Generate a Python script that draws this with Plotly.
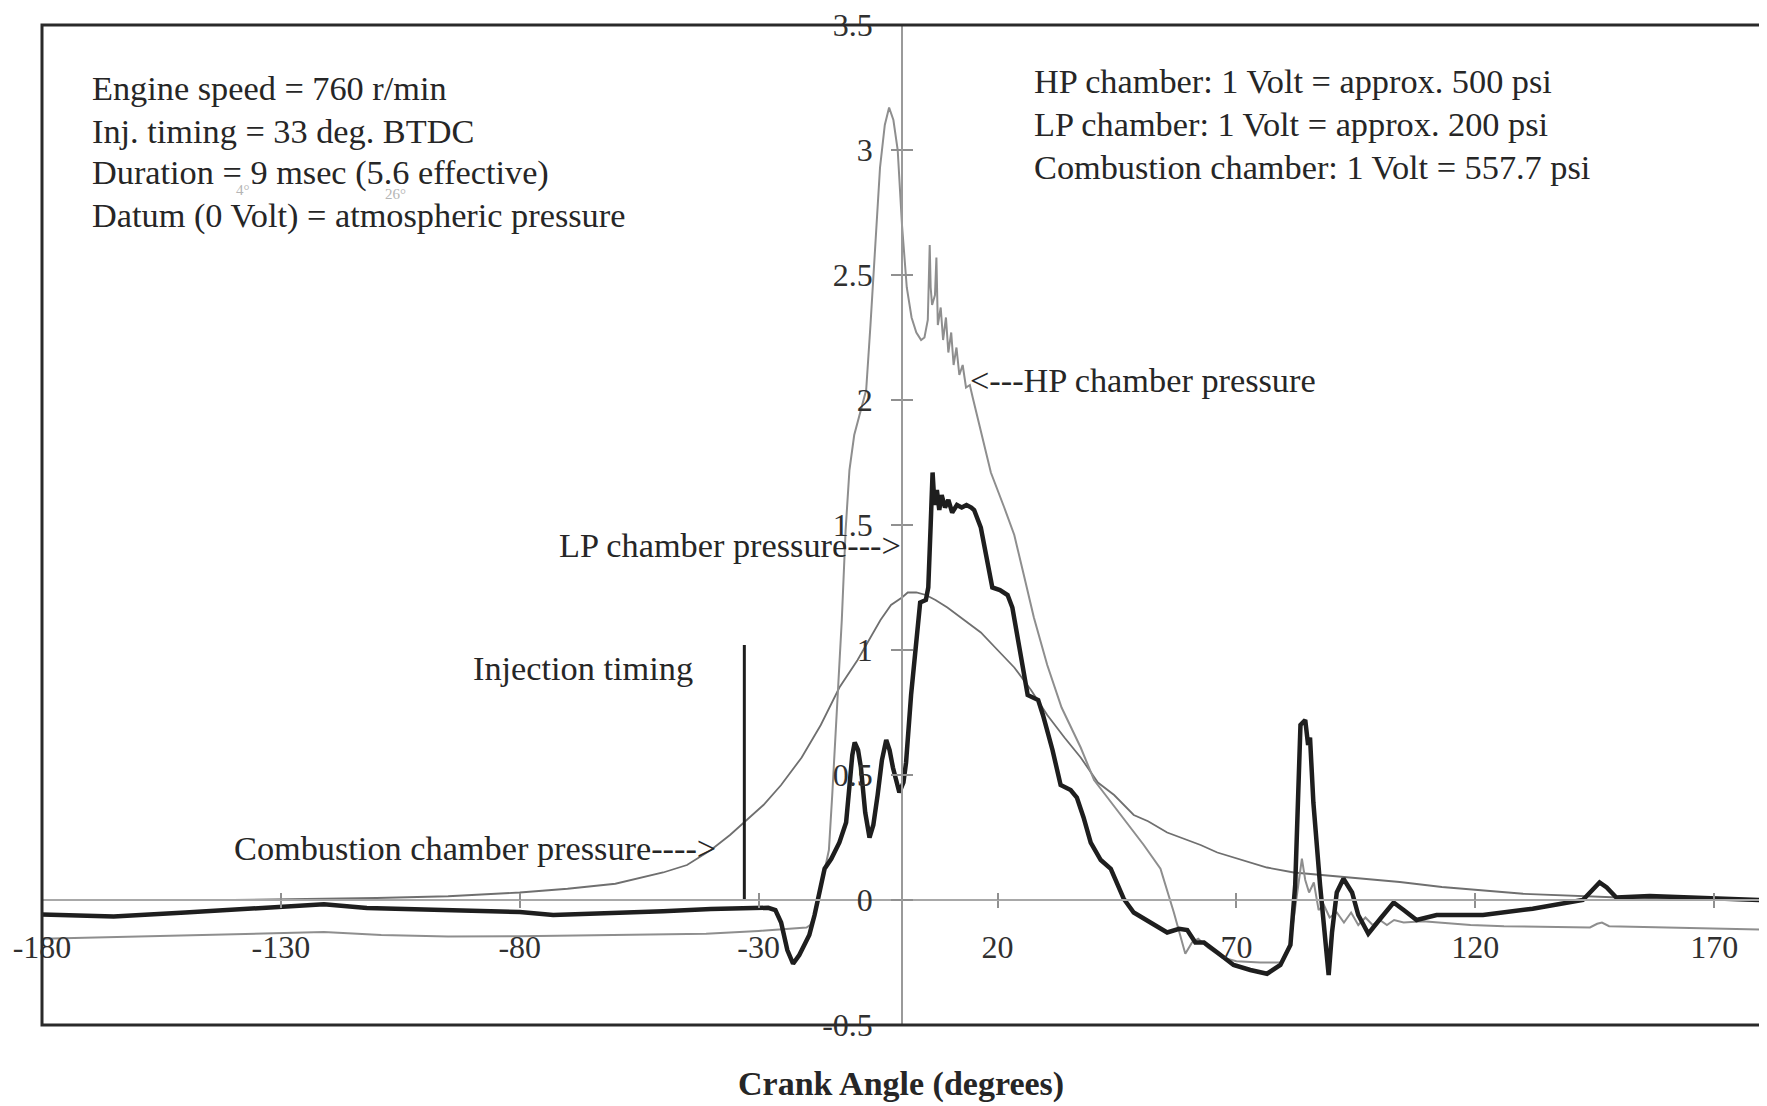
import plotly.graph_objects as go

# ---------------- data ----------------
hp_angle = [-180, -165, -150, -135, -121, -109, -95, -80, -64, -50, -41, -30, -24, -20, -19.2, -18.3,
            -17.3, -16.2, -15.3, -14.6, -13.6, -12.6, -11.8, -11.0, -10.0, -8.6, -7.5, -6.6, -5.6,
            -4.6, -3.6, -2.7, -1.8, -0.9, 0.0, 1.0, 2.0, 3.0, 4.0, 4.7, 5.4, 5.8, 6.0, 6.3, 6.9, 7.2,
            7.5, 8.1, 8.6, 9.2, 9.7, 10.3, 10.8, 11.4, 12.0, 12.7, 13.4, 14.2, 14.8, 16.5, 18.6, 21.4,
            23.5, 25.5, 27.6, 30.4, 33.4, 37.4, 40.2, 43.0, 45.0, 47.5, 50.6, 54.1, 56.9, 59.3, 60.7,
            62.0, 64.0, 67.0, 70.0, 75.0, 79.5, 81.3, 82.5, 83.7, 84.4, 85.2, 86.2, 87.2, 88.3, 89.5,
            91.0, 92.5, 94.0, 95.5, 97.0, 98.5, 100.0, 101.5, 103.0, 105.0, 109.0, 113.0, 119.0,
            126.0, 135.0, 144.0, 145.5, 146.5, 148.0, 160.0, 170.0, 180.0]
hp_volts = [-0.155, -0.148, -0.142, -0.133, -0.128, -0.14, -0.146, -0.145, -0.142, -0.138, -0.135,
            -0.124, -0.115, -0.11, -0.1, -0.06, 0.02, 0.12, 0.2, 0.42, 0.78, 1.12, 1.48, 1.72, 1.86,
            1.96, 2.04, 2.3, 2.62, 2.93, 3.1, 3.17, 3.12, 3.0, 2.7, 2.45, 2.33, 2.27, 2.24, 2.25, 2.32,
            2.62, 2.45, 2.38, 2.42, 2.57, 2.3, 2.37, 2.24, 2.33, 2.19, 2.27, 2.14, 2.21, 2.1, 2.14,
            2.05, 2.06, 2.01, 1.88, 1.71, 1.57, 1.46, 1.3, 1.13, 0.94, 0.77, 0.61, 0.48, 0.41, 0.36,
            0.3, 0.22, 0.125, -0.05, -0.215, -0.17, -0.155, -0.19, -0.23, -0.245, -0.25, -0.25, -0.17,
            0.0, 0.165, 0.08, 0.03, 0.07, -0.04, -0.02, -0.07, -0.05, -0.09, -0.05, -0.1, -0.07, -0.1,
            -0.08, -0.1, -0.08, -0.09, -0.085, -0.09, -0.1, -0.105, -0.108, -0.11, -0.095, -0.09,
            -0.105, -0.11, -0.113, -0.118]

lp_angle = [-180, -165, -150, -140, -130, -121, -112, -98, -80, -73, -62, -50, -40, -28, -26.5,
            -25.3, -24, -22.8, -21.5, -20.5, -19.4, -18.3, -17.3, -16.2, -14.8, -13.1, -11.7, -11.0,
            -10.4, -9.9, -9.2, -8.6, -7.7, -6.8, -6.0, -5.1, -4.2, -3.3, -2.6, -1.9, -0.55, 0.3, 0.85,
            1.9, 2.6, 3.3, 3.8, 5.0, 5.5, 6.0, 6.4, 6.8, 7.3, 7.8, 8.3, 9.0, 9.7, 10.5, 11.5, 12.5,
            13.5, 14.5, 15.1, 16.5, 18.2, 18.9, 20.5, 22.1, 23.1, 24.5, 26.3, 28.5, 29.5, 31.5, 33.2,
            35.3, 36.6, 38.0, 39.5, 41.6, 43.7, 46.4, 48.5, 52.0, 55.5, 58.0, 59.7, 61.4, 63.2, 66.0,
            69.4, 72.9, 76.4, 79.2, 81.3, 82.3, 83.4, 84.4, 85.0, 85.4, 86.1, 87.5, 88.6, 89.3, 90.0,
            91.0, 92.4, 94.2, 95.5, 97.6, 100.1, 102.9, 105.0, 107.7, 111.9, 121.6, 132.0, 142.5,
            144.5, 146.0, 147.5, 149.5, 156.5, 170.4, 180.0]
lp_volts = [-0.058, -0.066, -0.05, -0.04, -0.028, -0.017, -0.032, -0.04, -0.048, -0.06, -0.054,
            -0.045, -0.036, -0.031, -0.04, -0.09, -0.2, -0.255, -0.22, -0.18, -0.14, -0.06, 0.02,
            0.125, 0.165, 0.23, 0.31, 0.45, 0.58, 0.63, 0.6, 0.53, 0.35, 0.25, 0.3, 0.42, 0.56, 0.64,
            0.6, 0.53, 0.43, 0.47, 0.55, 0.82, 0.95, 1.12, 1.19, 1.2, 1.25, 1.5, 1.71, 1.58, 1.64,
            1.56, 1.62, 1.57, 1.6, 1.55, 1.58, 1.57, 1.58, 1.57, 1.56, 1.49, 1.33, 1.25, 1.24, 1.22,
            1.17, 1.01, 0.82, 0.8, 0.74, 0.6, 0.46, 0.44, 0.41, 0.33, 0.23, 0.16, 0.125, 0.005,
            -0.05, -0.09, -0.13, -0.115, -0.12, -0.17, -0.17, -0.21, -0.26, -0.28, -0.295, -0.26,
            -0.18, 0.06, 0.7, 0.72, 0.62, 0.65, 0.39, 0.06, -0.14, -0.3, -0.13, 0.03, 0.085, 0.03,
            -0.06, -0.135, -0.075, -0.01, -0.04, -0.08, -0.06, -0.06, -0.035, 0.0, 0.04, 0.07, 0.05,
            0.01, 0.016, 0.005, 0.0]

comb_angle = [-180, -140, -110, -95, -80, -70, -60, -50, -45, -40, -36, -33, -29, -25.3, -21, -17,
              -13.1, -9.3, -7.2, -4.5, -2.3, 0, 1.2, 3, 5, 7, 9.5, 13, 16.5, 20, 23.5, 27, 30.4, 34,
              37.4, 41, 44.4, 48.5, 51.5, 55.5, 58.3, 62.5, 66, 69.4, 76.4, 82, 90.3, 97.3, 104.2,
              113, 120, 130, 150, 180]
comb_volts = [0.0, 0.0, 0.008, 0.015, 0.03, 0.045, 0.065, 0.11, 0.14, 0.2, 0.26, 0.31, 0.38, 0.46,
              0.57, 0.7, 0.85, 0.96, 1.03, 1.12, 1.18, 1.21, 1.23, 1.23, 1.22, 1.2, 1.17, 1.12, 1.07,
              1.0, 0.93, 0.84, 0.74, 0.65, 0.57, 0.47, 0.42, 0.34, 0.315, 0.27, 0.25, 0.22, 0.19, 0.17,
              0.13, 0.11, 0.096, 0.085, 0.072, 0.052, 0.04, 0.025, 0.01, 0.0]

inj_angle = [-33, -33]
inj_volts = [0.0, 1.02]

x_ticks = [-180, -130, -80, -30, 20, 70, 120, 170]
x_ticktext = ["-180", "-130", "-80", "-30", "20", "70", "120", "170"]
y_ticks = [-0.5, 0, 0.5, 1, 1.5, 2, 2.5, 3, 3.5]
y_ticktext = ["-0.5", "0", "0.5", "1", "1.5", "2", "2.5", "3", "3.5"]

notes_left = ["Engine speed = 760 r/min", "Inj. timing = 33 deg. BTDC",
              "Duration = 9 msec (5.6 effective)", "Datum (0 Volt) = atmospheric pressure"]
notes_right = ["HP chamber: 1 Volt = approx. 500 psi", "LP chamber: 1 Volt = approx. 200 psi",
               "Combustion chamber: 1 Volt = 557.7 psi"]

# ---------------- layout geometry ----------------
# the page body has an 8px margin, so the figure is drawn 8px smaller and
# screen positions are converted with that offset
OFF = 8
W, H = 1767 - OFF, 1106 - OFF


def px(xs):
    return (xs - OFF) / W


def py(ys):
    return (H - (ys - OFF)) / H


X_RANGE = [-180, 180]
Y_RANGE = [-0.5, 3.5]
xdom = [px(42), px(1762)]
ydom = [py(1025), py(25)]
zero_y_paper = ydom[0] + (0 - Y_RANGE[0]) / (Y_RANGE[1] - Y_RANGE[0]) * (ydom[1] - ydom[0])
zero_x_paper = xdom[0] + (0 - X_RANGE[0]) / (X_RANGE[1] - X_RANGE[0]) * (xdom[1] - xdom[0])

SERIF = "Liberation Serif, Times New Roman, serif"
TXT = "#262626"
FS = 34.3

fig = go.Figure()

fig.add_trace(go.Scatter(x=comb_angle, y=comb_volts, mode="lines", name="Combustion chamber",
                         line=dict(color="#6f6f6f", width=1.8), showlegend=False))
fig.add_trace(go.Scatter(x=hp_angle, y=hp_volts, mode="lines", name="HP chamber",
                         line=dict(color="#8e8e8e", width=2.0), showlegend=False))
fig.add_trace(go.Scatter(x=lp_angle, y=lp_volts, mode="lines", name="LP chamber",
                         line=dict(color="#1e1e1e", width=4.5), showlegend=False))
fig.add_trace(go.Scatter(x=inj_angle, y=inj_volts, mode="lines", name="Injection timing",
                         line=dict(color="#1e1e1e", width=3), showlegend=False))
# empty trace to host the overlay axes (inward half of crossing ticks)
fig.add_trace(go.Scatter(x=[None], y=[None], xaxis="x2", yaxis="y2", showlegend=False,
                         hoverinfo="skip"))

tickfont = dict(family=SERIF, size=32, color="#303030")

fig.update_layout(
    width=W, height=H,
    margin=dict(l=0, r=0, t=0, b=0),
    paper_bgcolor="white", plot_bgcolor="white",
    xaxis=dict(range=X_RANGE, domain=xdom, anchor="free", position=zero_y_paper,
               showline=True, linecolor="#a8a8a8", linewidth=1.5,
               ticks="outside", ticklen=7, tickwidth=1.5, tickcolor="#909090",
               tickvals=x_ticks, ticktext=x_ticktext, tickfont=tickfont,
               ticklabelstandoff=12, ticklabeloverflow="allow",
               showgrid=False, zeroline=False, automargin=False),
    yaxis=dict(range=Y_RANGE, domain=ydom, anchor="free", position=zero_x_paper,
               showline=True, linecolor="#9a9a9a", linewidth=1.5,
               ticks="outside", ticklen=10, tickwidth=1.5, tickcolor="#909090",
               tickvals=y_ticks, ticktext=y_ticktext, tickfont=tickfont,
               ticklabelstandoff=12, ticklabeloverflow="allow",
               showgrid=False, zeroline=False, automargin=False),
    xaxis2=dict(range=X_RANGE, overlaying="x", anchor="free", position=zero_y_paper,
                showline=False, ticks="inside", ticklen=7, tickwidth=1.5, tickcolor="#909090",
                tickvals=x_ticks, showticklabels=False, showgrid=False, zeroline=False),
    yaxis2=dict(range=Y_RANGE, overlaying="y", anchor="free", position=zero_x_paper,
                showline=False, ticks="inside", ticklen=10, tickwidth=1.5, tickcolor="#909090",
                tickvals=y_ticks, showticklabels=False, showgrid=False, zeroline=False),
    shapes=[dict(type="rect", xref="paper", yref="paper",
                 x0=xdom[0], x1=xdom[1], y0=ydom[0], y1=ydom[1],
                 line=dict(color="#2a2a2a", width=3), layer="above")],
)

ann_font = dict(family=SERIF, size=FS, color=TXT)
annotations = []
for i, line in enumerate(notes_left):
    annotations.append(dict(xref="paper", yref="paper", x=px(90), y=py(88 + 42.5 * i),
                            xanchor="left", yanchor="middle", showarrow=False,
                            font=ann_font, text=line))
for i, line in enumerate(notes_right):
    annotations.append(dict(xref="paper", yref="paper", x=px(1032), y=py(81 + 42.8 * i),
                            xanchor="left", yanchor="middle", showarrow=False,
                            font=ann_font, text=line))
annotations += [
    dict(xref="x", yref="y", x=13.9, y=2.08, xanchor="left", yanchor="middle", showarrow=False,
         font=ann_font, text="<---HP chamber pressure"),
    dict(xref="x", yref="y", x=0.3, y=1.42, xanchor="right", yanchor="middle", showarrow=False,
         font=ann_font, text="LP chamber pressure--->"),
    dict(xref="x", yref="y", x=-66.8, y=0.93, xanchor="center", yanchor="middle", showarrow=False,
         font=ann_font, text="Injection timing"),
    dict(xref="x", yref="y", x=-38.6, y=0.21, xanchor="right", yanchor="middle", showarrow=False,
         font=ann_font, text="Combustion chamber pressure---->"),
    dict(xref="paper", yref="paper", x=px(901), y=py(1084), xanchor="center",
         yanchor="middle", showarrow=False,
         font=dict(family=SERIF, size=34, color=TXT), text="<b>Crank Angle (degrees)</b>"),
    dict(xref="paper", yref="paper", x=px(243), y=py(190), xanchor="center",
         yanchor="middle", showarrow=False,
         font=dict(family=SERIF, size=15, color="#b5b5b5"), text="4°"),
    dict(xref="paper", yref="paper", x=px(395), y=py(194), xanchor="center",
         yanchor="middle", showarrow=False,
         font=dict(family=SERIF, size=15, color="#b5b5b5"), text="26°"),
]
fig.update_layout(annotations=annotations)

fig.write_html("out.html")
